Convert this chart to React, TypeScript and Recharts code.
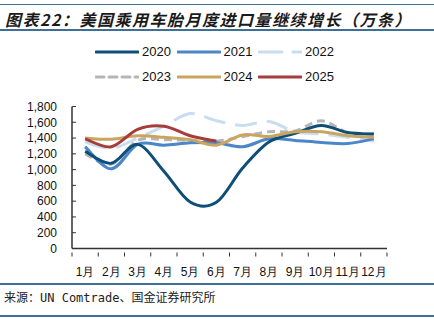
import React from "react";
import { LineChart, Line, XAxis, YAxis } from "recharts";

const months = ["1月", "2月", "3月", "4月", "5月", "6月", "7月", "8月", "9月", "10月", "11月", "12月"];
const s2020 = [1230, 1080, 1320, 980, 590, 585, 1020, 1350, 1460, 1560, 1470, 1450];
const s2021 = [1290, 1010, 1320, 1310, 1340, 1340, 1290, 1390, 1370, 1345, 1330, 1390];
const s2022 = [1350, 1270, 1400, 1550, 1710, 1620, 1560, 1610, 1480, 1450, 1410, 1360];
const s2023 = [1200, 1070, 1370, 1380, 1370, 1360, 1420, 1480, 1490, 1620, 1470, 1450];
const s2024 = [1400, 1385, 1430, 1410, 1380, 1310, 1440, 1420, 1480, 1480, 1430, 1410];
const s2025 = [1390, 1290, 1510, 1550, 1430, 1360];
const yTicks = [0, 200, 400, 600, 800, 1000, 1200, 1400, 1600, 1800];
const bandEdges = [0.5, 1.5, 2.5, 3.5, 4.5, 5.5, 6.5, 7.5, 8.5, 9.5, 10.5, 11.5, 12.5];

const data = months.map((m, i) => ({
  m: i + 1,
  label: m,
  y2020: s2020[i],
  y2021: s2021[i],
  y2022: s2022[i],
  y2023: s2023[i],
  y2024: s2024[i],
  y2025: s2025[i] ?? null,
}));

const series = [
  { key: "y2020", name: "2020", color: "#0d4f78", dash: undefined },
  { key: "y2021", name: "2021", color: "#4a86c8", dash: undefined },
  { key: "y2022", name: "2022", color: "#c9ddf0", dash: "22 10" },
  { key: "y2023", name: "2023", color: "#b5b5b5", dash: "8 5" },
  { key: "y2024", name: "2024", color: "#c9a560", dash: undefined },
  { key: "y2025", name: "2025", color: "#a83c3a", dash: undefined },
];
const drawOrder = ["y2022", "y2023", "y2021", "y2020", "y2024", "y2025"];

// excel-like smoothing (catmull-rom through the points)
function smooth(context: any) {
  let pts: number[][] = [];
  return {
    areaStart() {},
    areaEnd() {},
    lineStart() {
      pts = [];
    },
    point(x: number, y: number) {
      pts.push([+x, +y]);
    },
    lineEnd() {
      if (!pts.length) return;
      context.moveTo(pts[0][0], pts[0][1]);
      for (let i = 0; i < pts.length - 1; i++) {
        const p0 = pts[i - 1] || pts[i];
        const p1 = pts[i];
        const p2 = pts[i + 1];
        const p3 = pts[i + 2] || p2;
        context.bezierCurveTo(
          p1[0] + (p2[0] - p0[0]) / 6,
          p1[1] + (p2[1] - p0[1]) / 6,
          p2[0] - (p3[0] - p1[0]) / 6,
          p2[1] - (p3[1] - p1[1]) / 6,
          p2[0],
          p2[1]
        );
      }
    },
  };
}

const fmt = (v: number) => v.toLocaleString("en-US");
const font = "'Liberation Sans', Arial, sans-serif";
const axisColor = "#333";

// tick at each band edge, month label centred in the band to its right
const BAND = 315 / 12;
function EdgeTick(props: any) {
  const { x, y, payload } = props;
  const idx = Math.round(payload.value - 0.5);
  return (
    <g>
      <line x1={x} y1={y} x2={x} y2={y - 4} stroke={axisColor} strokeWidth={1} />
      {idx < months.length && (
        <text
          x={x + BAND / 2}
          y={y + 19}
          textAnchor="middle"
          fontSize={12}
          fill="#111"
          fontFamily={font}
        >
          {months[idx]}
        </text>
      )}
    </g>
  );
}

function LegendItem({ s }: { s: (typeof series)[number] }) {
  return (
    <div style={{ display: "flex", alignItems: "center", width: 81.5 }}>
      <svg width={44} height={6} style={{ marginRight: 3 }}>
        <line
          x1={1}
          y1={3}
          x2={43}
          y2={3}
          stroke={s.color}
          strokeWidth={3}
          strokeDasharray={s.dash === "22 10" ? "23 11" : s.dash}
          strokeLinecap="round"
        />
      </svg>
      <span style={{ fontSize: 13, color: "#111" }}>{s.name}</span>
    </div>
  );
}

export default function App() {
  return (
    <div
      style={{
        position: "absolute",
        left: 0,
        top: 0,
        width: 434,
        height: 323,
        overflow: "hidden",
        background: "#fff",
        fontFamily: font,
      }}
    >
      <div style={{ position: "absolute", left: 0, top: 4, width: 434, height: 1, background: "#3f6f94" }} />
      <div
        style={{
          position: "absolute",
          left: 5,
          top: 7,
          fontSize: 16,
          fontWeight: "bold",
          fontStyle: "italic",
          letterSpacing: 1.5,
          color: "#1a1a1a",
          fontFamily: "'Noto Sans CJK SC', sans-serif",
          whiteSpace: "nowrap",
        }}
      >
        图表22：美国乘用车胎月度进口量继续增长（万条）
      </div>
      <div style={{ position: "absolute", left: 0, top: 29, width: 434, height: 2, background: "#3f6f94" }} />

      <div style={{ position: "absolute", left: 95, top: 44, display: "flex" }}>
        {series.slice(0, 3).map((s) => (
          <LegendItem key={s.key} s={s} />
        ))}
      </div>
      <div style={{ position: "absolute", left: 95, top: 69, display: "flex" }}>
        {series.slice(3).map((s) => (
          <LegendItem key={s.key} s={s} />
        ))}
      </div>

      <div style={{ position: "absolute", left: 0, top: 0 }}>
        <LineChart
          width={434}
          height={323}
          data={data}
          margin={{ top: 106.5, right: 47, left: 32, bottom: 44.5 }}
        >
          <XAxis
            type="number"
            dataKey="m"
            domain={[0.5, 12.5]}
            ticks={bandEdges}
            interval={0}
            tick={<EdgeTick />}
            tickLine={false}
            axisLine={{ stroke: axisColor, strokeWidth: 1.5 }}
            height={30}
            allowDataOverflow
          />
          <YAxis
            domain={[0, 1800]}
            ticks={yTicks}
            interval={0}
            tickFormatter={fmt}
            width={40}
            tickSize={-4}
            tickMargin={19}
            axisLine={{ stroke: axisColor, strokeWidth: 1.5 }}
            tickLine={{ stroke: axisColor }}
            tick={{ fontSize: 12, fill: "#111", fontFamily: font }}
          />
          {drawOrder.map((k) => {
            const s = series.find((x) => x.key === k)!;
            return (
              <Line
                key={k}
                dataKey={k}
                type={smooth as any}
                stroke={s.color}
                strokeWidth={3}
                strokeDasharray={s.dash}
                dot={false}
                isAnimationActive={false}
              />
            );
          })}
        </LineChart>
      </div>

      <div style={{ position: "absolute", left: 0, top: 283, width: 434, height: 1.5, background: "#3f6f94" }} />
      <div
        style={{
          position: "absolute",
          left: 4,
          top: 288,
          fontSize: 12,
          color: "#222",
          fontFamily: "'DejaVu Sans Mono', 'Noto Sans CJK SC', monospace",
          whiteSpace: "nowrap",
        }}
      >
        来源：UN Comtrade、国金证券研究所
      </div>
      <div style={{ position: "absolute", left: 0, top: 315, width: 434, height: 1.5, background: "#3f6f94" }} />
      <div
        style={{
          position: "absolute",
          left: 5,
          top: 318,
          fontSize: 16,
          fontWeight: "bold",
          fontStyle: "italic",
          letterSpacing: 1.5,
          color: "#1a1a1a",
          fontFamily: "'Noto Sans CJK SC', sans-serif",
          whiteSpace: "nowrap",
        }}
      >
        图表23：2025年上半年美国乘用车胎进口结构
      </div>
    </div>
  );
}
